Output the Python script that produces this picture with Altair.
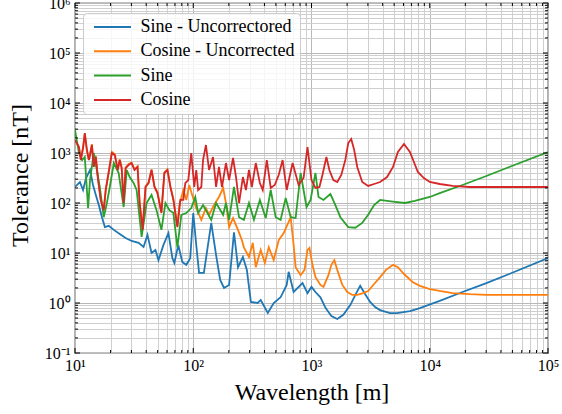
import altair as alt
import pandas as pd

# ---------------- data ----------------
series_names = ["Sine - Uncorrectored", "Cosine - Uncorrected", "Sine", "Cosine"]
series_colors = ["#1f77b4", "#ff7f0e", "#2ca02c", "#d62728"]

sine_unc_x = [10, 11.0, 11.7, 12.4, 13.4, 14.2, 15.0, 15.9, 16.9, 17.9, 19.3, 21.3, 23.9, 26.8, 30.1,
              34.5, 38.0, 41.0, 44.4, 47.9, 50.8, 56, 61.7, 66.6, 69.2, 74.7, 80.8, 87.3, 94.3, 100,
              106, 112, 123, 142, 156, 169, 182, 201, 221, 239, 263, 284, 307, 351, 372, 427, 479,
              548, 617, 641, 706, 840, 925, 1000, 1080, 1190, 1313, 1472, 1652, 1858, 2128, 2390,
              2582, 2844, 3133, 3451, 3802, 4617, 5284, 6794, 8247, 12140, 18930, 30130, 47000, 100000]
sine_unc_y = [209, 263, 182, 316, 457, 229, 145, 91, 52, 33, 35, 29, 24, 20, 17.4,
              16, 13.2, 23, 10, 11.5, 7.2, 14.5, 25, 7.9, 6.3, 14.5, 6.6, 5.8, 7.9, 63,
              14.5, 4, 4, 40, 9.1, 2.9, 2.0, 2.3, 26, 5.2, 8.3, 4.6, 1.05, 1.0, 1.15, 0.63, 1.0,
              1.3, 2.3, 4.2, 1.66, 2.5, 1.58, 2.1, 1.66, 1.3, 0.8, 0.55, 0.48, 0.58, 0.91, 1.58,
              2.2, 1.5, 1.05, 0.83, 0.72, 0.63, 0.63, 0.69, 0.79, 1.1, 1.66, 2.5, 3.8, 7.9]

cos_x = [10, 10.8, 11.2, 11.7, 12.1, 12.6, 13.1, 13.4, 13.9, 14.4, 15.0, 15.6, 16.5, 17.5, 18.2,
         19.3, 20.5, 21.7, 23.0, 23.9, 24.8, 25.8, 26.8, 28.4, 30.1, 31.9, 33.8, 35.2, 37.3, 39.5,
         41.9, 44.4, 47.0, 49.8, 53.8, 57.0, 60.5, 64.1, 67.9, 73.4, 77.8, 82.4, 85.7, 90.8, 96.2,
         102, 106, 110, 117, 121, 128, 136, 147, 156, 165, 175, 189, 201, 217, 230,
         244, 263, 279, 296, 313, 338, 366, 387, 419, 452, 489, 528, 570, 617, 692,
         778, 857, 925, 1000, 1080, 1167, 1237, 1337, 1416, 1531, 1652, 1786, 1932, 2046, 2168,
         2297, 2437, 2685, 3015, 3383, 3802, 4356, 4890, 5380, 6054, 6794, 7345, 7930, 8920, 10000,
         12140, 15600, 21700, 30130, 47000, 100000]
cos_y = [1800, 1318, 724, 1259, 2512, 1148, 724, 912, 1445, 525, 832, 316, 115, 72, 182,
         417, 1000, 912, 457, 724, 500, 100, 500, 575, 630, 457, 525, 100, 29, 209,
         251, 457, 209, 158, 63, 398, 457, 209, 115, 33, 115, 115, 251, 288, 1000,
         209, 457, 182, 209, 724, 1445, 457, 832, 209, 525, 209, 630, 288, 794, 331,
         100, 331, 182, 457, 209, 630, 251, 182, 724, 200, 229, 363, 724, 182, 630,
         229, 316, 1318, 288, 200, 209, 363, 832, 457, 288, 263, 363, 724, 1585, 1905,
         1148, 525, 263, 219, 240, 263, 331, 525, 1047, 1514, 1047, 661, 417, 316, 263,
         240, 219, 209, 209, 209, 209]

cos_unc_x = [10, 10.8, 11.2, 11.7, 12.1, 12.6, 13.1, 13.4, 13.9, 14.4, 15.0, 15.6, 16.5, 17.5, 18.2,
             19.3, 20.5, 21.7, 23.0, 23.9, 24.8, 25.8, 26.8, 28.4, 30.1, 31.9, 33.8, 35.2, 37.3, 39.5,
             41.9, 44.4, 47.0, 49.8, 53.8, 57.0, 60.5, 64.1, 67.9, 73.4,
             76.3, 82.4, 87.3, 92.5, 96.2, 106, 117, 128, 136, 150, 165, 179, 189, 201, 217,
             239, 258, 268, 296, 319, 338, 372, 403, 435, 479, 528, 582, 641, 667, 706,
             734, 809, 873, 925, 961, 1019, 1080, 1190, 1262, 1390, 1472, 1560, 1652, 1823, 2009,
             2213, 2437, 2736, 3015, 3383, 3802, 4270, 4890, 5380, 6054, 7198, 8247, 10000, 12140, 15600,
             21700, 30130, 47000, 100000]
cos_unc_y = [1850, 1300, 760, 1300, 2450, 1150, 740, 950, 1500, 540, 880, 330, 120, 75, 190,
             430, 1050, 940, 470, 740, 520, 105, 510, 600, 640, 470, 540, 105, 30, 215,
             260, 470, 215, 165, 66, 410, 470, 215, 120, 35,
             91, 182, 115, 229, 166, 79, 46, 79, 58, 91, 132, 200, 100, 33, 50,
             29, 18, 13, 8.3, 16, 5.2, 11.5, 6.3, 13, 7.2, 18, 25, 42, 52, 14.5,
             5.2, 3.6, 4.6, 11.5, 12.6, 5.8, 3.3, 2.3, 2.1, 3.6, 5.8, 7.2, 4.6, 2.3, 1.66,
             1.45, 1.45, 1.58, 1.74, 2.4, 3.3, 4.6, 5.8, 5.2, 3.8, 2.6, 2.2, 1.9, 1.74, 1.58,
             1.5, 1.45, 1.45, 1.45]

sine_x = [10, 10.8, 11.5, 12.1, 12.9, 13.4, 14.4, 15.3, 16.2, 17.5, 18.6, 19.7, 21.3, 23.4, 25.8,
          27.4, 29.0, 31.3, 33.2, 36.6, 40.3, 44.4, 48.9, 53.8, 58.2, 62.8, 67.9, 73.4, 79.3, 87.3,
          96.2, 104, 110, 121, 142, 156, 179, 189, 201, 221, 244, 268, 296, 326, 366,
          410, 452, 498, 548, 605, 667, 734, 809, 857, 908, 982, 1080, 1146, 1262, 1445,
          1592, 1754, 2046, 2344, 2685, 3015, 3383, 3802, 4356, 5080, 6166, 7480, 10000, 12140, 18930,
          30130, 47000, 100000]
sine_y = [2884, 1000, 724, 832, 79, 288, 1000, 457, 209, 52, 100, 209, 630, 398, 83,
          457, 331, 251, 182, 21, 100, 145, 72, 29, 100, 72, 63, 13, 58, 63,
          79, 132, 63, 91, 46, 100, 58, 100, 46, 209, 52, 46, 100, 46, 115,
          50, 182, 52, 46, 126, 52, 50, 398, 182, 83, 115, 398, 132, 115, 151,
          91, 52, 33, 32, 40, 58, 91, 115, 110, 105, 100, 110, 132, 158, 229,
          347, 525, 1047]

# axis tick positions
x_major = [10, 100, 1000, 10000, 100000]
y_major = [0.1, 1, 10, 100, 1000, 10000, 100000, 1000000]
x_minor = [m * d for d in [10, 100, 1000, 10000] for m in range(2, 10)]
y_minor = [m * d for d in [0.1, 1, 10, 100, 1000, 10000, 100000] for m in range(2, 10)]

# ---------------- build table ----------------
frames = []
for name, xs, ys in [(series_names[0], sine_unc_x, sine_unc_y),
                     (series_names[1], cos_unc_x, cos_unc_y),
                     (series_names[2], sine_x, sine_y),
                     (series_names[3], cos_x, cos_y)]:
    frames.append(pd.DataFrame({"wavelength": xs, "tolerance": ys, "series": name}))
df = pd.concat(frames, ignore_index=True)

W, H = 473, 350
FONT = "Liberation Serif"

xscale = alt.Scale(type="log", domain=[10, 1e5], nice=False)
yscale = alt.Scale(type="log", domain=[0.1, 1e6], nice=False)

is_decade = "abs(log(datum.value)/LN10 - round(log(datum.value)/LN10)) < 0.01"
sup = "['\u207b\u00b9','\u2070','\u00b9','\u00b2','\u00b3','\u2074','\u2075','\u2076']"
label_expr = f"{is_decade} ? '10' + {sup}[round(log(datum.value)/LN10) + 1] : ''"
grid_color = {"condition": {"test": is_decade, "value": "#b8b8b8"}, "value": "#cfcfcf"}

common_axis = dict(
    grid=True, gridColor=grid_color, gridWidth=1, ticks=False, tickSize=0, domain=False,
    labelExpr=label_expr, labelFont=FONT, labelFontSize=16, labelColor="black",
    labelFlush=False, labelOverlap=False, labelBound=False,
    titleFont=FONT, titleFontSize=24, titleFontWeight="normal", titleColor="black",
)

x_axis = alt.Axis(values=x_major + x_minor, labelPadding=4, title="Wavelength [m]",
                  titleY=46, titleBaseline="alphabetic", **common_axis)
y_axis = alt.Axis(values=y_major + y_minor, labelPadding=5, title="Tolerance [nT]",
                  titleX=-48, titleY=172, titleAngle=270, titleAlign="center",
                  titleBaseline="alphabetic", **common_axis)

lines = alt.Chart(df).mark_line(strokeWidth=1.8, clip=True).encode(
    x=alt.X("wavelength:Q", scale=xscale, axis=x_axis),
    y=alt.Y("tolerance:Q", scale=yscale, axis=y_axis),
    color=alt.Color("series:N",
                    scale=alt.Scale(domain=series_names, range=series_colors),
                    sort=series_names,
                    legend=alt.Legend(title=None, orient="none", legendX=8, legendY=10,
                                      symbolType="M-3.7,0H3.7", symbolSize=100,
                                      symbolStrokeWidth=2, symbolOffset=15.5, labelOffset=19,
                                      labelFont=FONT, labelFontSize=18, labelColor="black",
                                      labelLimit=400, rowPadding=6.3, padding=5,
                                      fillColor="rgba(255,255,255,0.8)", strokeColor="#cccccc",
                                      cornerRadius=4)),
)


def xticks(vals, length):
    d = pd.DataFrame({"wavelength": vals})
    base = alt.Chart(d).mark_rule(color="black", strokeWidth=1)
    bottom = base.encode(x=alt.X("wavelength:Q", scale=xscale, axis=x_axis),
                         y=alt.value(H), y2=alt.value(H - length))
    top = base.encode(x=alt.X("wavelength:Q", scale=xscale, axis=x_axis),
                      y=alt.value(0), y2=alt.value(length))
    return [bottom, top]


def yticks(vals, length):
    d = pd.DataFrame({"tolerance": vals})
    base = alt.Chart(d).mark_rule(color="black", strokeWidth=1)
    left = base.encode(y=alt.Y("tolerance:Q", scale=yscale, axis=y_axis),
                       x=alt.value(0), x2=alt.value(length))
    right = base.encode(y=alt.Y("tolerance:Q", scale=yscale, axis=y_axis),
                        x=alt.value(W), x2=alt.value(W - length))
    return [left, right]


layers = [lines] + xticks(x_major, 5) + xticks(x_minor, 3) + yticks(y_major, 5) + yticks(y_minor, 3)

chart = alt.layer(*layers).properties(
    width=W, height=H,
    autosize=alt.AutoSizeParams(type="none"),
    padding={"left": 75, "top": 3, "right": 14, "bottom": 61},
    background="white",
).configure_view(stroke="black", strokeWidth=1.2)

chart.save("out.html", embed_options={"renderer": "svg", "actions": False})
